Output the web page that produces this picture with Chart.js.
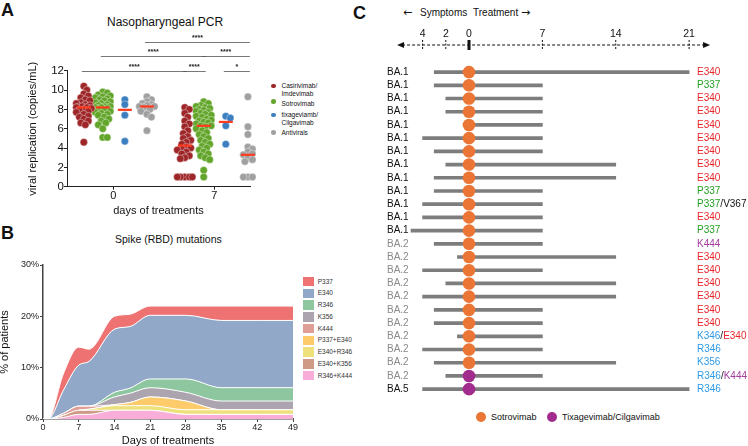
<!DOCTYPE html>
<html>
<head>
<meta charset="utf-8">
<script src="https://cdn.jsdelivr.net/npm/chart.js@4.4.0/dist/chart.umd.min.js"></script>
<style>
body { margin:0; width:748px; height:446px; overflow:hidden; background:#fff; position:relative;
       font-family:"Liberation Sans", Arial, Helvetica, sans-serif; color:#111; }
.t { position:absolute; white-space:nowrap; }
.big { font-weight:bold; font-size:18px; line-height:18px; }
canvas { position:absolute; }
.dot { position:absolute; border-radius:50%; }
.box { position:absolute; width:10.5px; height:9.5px; }
</style>
</head>
<body>
<!-- panel letters and titles -->
<div class="t big" style="left:1px;top:1px">A</div>
<div class="t" style="left:107px;top:14.7px;font-size:12px;line-height:14px">Nasopharyngeal PCR</div>
<div class="t big" style="left:1px;top:224px">B</div>
<div class="t" style="left:115px;top:233.3px;font-size:10.5px;line-height:12px">Spike (RBD) mutations</div>
<div class="t big" style="left:353px;top:3.5px">C</div>

<!-- panel A legend -->
<div class="dot" style="left:271px;top:83.7px;width:4.6px;height:4.6px;background:#9e2628"></div>
<div class="t" style="left:281.5px;top:82.4px;font-size:6.5px;line-height:7.3px">Casirivimab/<br>Imdevimab</div>
<div class="dot" style="left:271px;top:99.2px;width:4.6px;height:4.6px;background:#62a52a"></div>
<div class="t" style="left:281.5px;top:99.9px;font-size:6.5px;line-height:7.3px">Sotrovimab</div>
<div class="dot" style="left:271px;top:112.7px;width:4.6px;height:4.6px;background:#3b7fc0"></div>
<div class="t" style="left:281.5px;top:111.4px;font-size:6.5px;line-height:7.3px">tixageviamb/<br>Cilgavimab</div>
<div class="dot" style="left:271px;top:130.4px;width:4.6px;height:4.6px;background:#a0a0a0"></div>
<div class="t" style="left:281.5px;top:129.1px;font-size:6.5px;line-height:7.3px">Antivirals</div>

<!-- panel B legend gets filled from the series list -->
<div id="legendB"></div>

<!-- panel C header and legend -->
<div class="t" style="left:403px;top:6px;font-family:'DejaVu Sans';font-size:11px;line-height:13px">&larr;</div>
<div class="t" style="left:420px;top:6.7px;font-size:10px;line-height:12px">Symptoms</div>
<div class="t" style="left:473px;top:6.7px;font-size:10px;line-height:12px">Treatment</div>
<div class="t" style="left:521px;top:6px;font-family:'DejaVu Sans';font-size:11px;line-height:13px">&rarr;</div>
<div class="dot" style="left:476px;top:412px;width:10px;height:10px;background:#eb7535"></div>
<div class="t" style="left:491px;top:411px;font-size:9px;line-height:12px">Sotrovimab</div>
<div class="dot" style="left:547px;top:412px;width:10px;height:10px;background:#a22c8e"></div>
<div class="t" style="left:562px;top:411px;font-size:9px;line-height:12px">Tixagevimab/Cilgavimab</div>

<canvas id="chartA" width="360" height="220" style="left:0;top:0"></canvas>
<canvas id="chartB" width="360" height="232" style="left:0;top:220px"></canvas>
<canvas id="chartC" width="388" height="446" style="left:360px;top:0"></canvas>

<script>
// ---------- PANEL A : viral load per drug, day 0 and day 7 ----------
const dayLabels = ['0', '7'];
const casDay0 = [10.4, 10.0, 9.6, 9.4, 9.2, 9.0, 8.9, 8.7, 8.6, 8.5, 8.4, 8.3, 8.3, 8.2, 8.2, 8.1, 8.0, 7.9, 7.8, 7.7, 7.5, 7.3, 7.2, 7.0, 6.8, 6.6, 6.4, 4.6];
const sotDay0 = [9.8, 9.7, 9.5, 9.4, 9.3, 9.2, 9.1, 9.0, 8.9, 8.8, 8.7, 8.6, 8.5, 8.4, 8.3, 8.3, 8.2, 8.2, 8.1, 8.0, 7.9, 7.8, 7.7, 7.6, 7.5, 7.4, 7.2, 7.0, 6.8, 6.6, 6.4, 6.0, 5.1, 5.1];
const tixDay0 = [9.0, 8.5, 7.4, 4.7];
const antDay0 = [9.3, 9.0, 8.8, 8.6, 8.5, 8.4, 8.3, 8.3, 8.2, 8.0, 7.8, 7.5, 7.2, 5.8];
const casDay7 = [8.2, 8.0, 7.6, 7.2, 6.8, 6.5, 6.2, 5.8, 5.5, 5.2, 5.0, 4.8, 4.6, 4.4, 4.1, 4.0, 3.9, 3.8, 3.6, 3.4, 3.2, 3.0, 2.9, 1, 1, 1, 1, 1];
const sotDay7 = [8.8, 8.6, 8.4, 8.3, 8.2, 8.1, 8.0, 7.9, 7.8, 7.7, 7.6, 7.5, 7.4, 7.3, 7.2, 7.0, 6.9, 6.8, 6.7, 6.6, 6.5, 6.3, 6.3, 6.2, 6.0, 5.8, 5.6, 5.4, 5.2, 5.0, 4.8, 4.6, 4.4, 4.2, 4.0, 3.8, 3.6, 3.4, 3.2, 3.0, 2.8, 1.7, 1.0];
const tixDay7 = [7.3, 7.1, 6.3, 4.4];
const antDay7 = [9.3, 6.2, 5.4, 4.1, 3.9, 3.6, 3.4, 3.3, 3.0, 2.8, 2.6, 1, 1, 1, 1];

const drugColors = ['#9e2628', '#62a52a', '#3b7fc0', '#a0a0a0'];
const dayCenters = [2.2, 7.0];
const drugOffsets = [-1.4, -0.5, 0.55, 1.6];
const groups = [casDay0, sotDay0, tixDay0, antDay0, casDay7, sotDay7, tixDay7, antDay7];
const groupX = groups.map((_, g) => dayCenters[Math.floor(g / 4)] + drugOffsets[g % 4]);
// [from group, to group, bracket level (y units), label]
const brackets = [[0, 4, 12, '****'], [4, 5, 12, '****'], [6, 7, 12, '*'],
                  [1, 5, 13.5, '****'], [5, 7, 13.5, '****'], [3, 7, 15, '****']];

const PX_PER_Y = 116 / 12, PX_PER_X = 21;

// simple beeswarm so the dots sit side by side like in the figure
function swarm(values, cx) {
  const placed = [];
  return values.slice().sort((a, b) => b - a).map(v => {
    const py = v * PX_PER_Y;
    let best = 0, bestGap = -1;
    for (let k = 0; k <= 10; k++) {
      const off = (k % 2 ? 1 : -1) * Math.ceil(k / 2) * 1.5;
      const gap = placed.reduce((m, p) => Math.min(m, Math.hypot(p.x - off, p.y - py)), Infinity);
      if (gap >= 4.4) { best = off; break; }
      if (gap > bestGap) { bestGap = gap; best = off; }
    }
    placed.push({x: best, y: py});
    return {x: cx + best / PX_PER_X, y: v};
  });
}
function median(a) {
  const s = a.slice().sort((x, y) => x - y), m = Math.floor(s.length / 2);
  return s.length % 2 ? s[m] : (s[m - 1] + s[m]) / 2;
}

const bracketPlugin = {
  id: 'brackets',
  afterDraw(chart) {
    const {ctx, scales: {x, y}} = chart;
    ctx.save();
    ctx.strokeStyle = '#555';
    ctx.lineWidth = 0.8;
    ctx.fillStyle = '#222';
    ctx.font = 'bold 7px "Liberation Sans", Arial';
    ctx.textAlign = 'center';
    ctx.textBaseline = 'bottom';
    brackets.forEach(([a, b, level, label]) => {
      const xa = x.getPixelForValue(groupX[a]) - 2, xb = x.getPixelForValue(groupX[b]) + 2;
      const py = Math.round(y.getPixelForValue(level)) + 0.5;
      ctx.beginPath(); ctx.moveTo(xa, py); ctx.lineTo(xb, py); ctx.stroke();
      ctx.fillText(label, (xa + xb) / 2, py - 1);
    });
    ctx.restore();
  }
};

const datasetsA = drugColors.map((c, k) => ({
  type: 'scatter',
  data: [...swarm(groups[k], groupX[k]), ...swarm(groups[k + 4], groupX[k + 4])],
  pointRadius: 3.7,
  pointBackgroundColor: c,
  pointBorderColor: 'rgba(255,255,255,0.55)',
  pointBorderWidth: 0.7,
  clip: false,
  order: 1
}));
datasetsA.push({
  type: 'scatter',
  data: groups.map((g, i) => ({x: groupX[i], y: median(g)})),
  pointStyle: 'line', pointRadius: 7, pointBorderColor: '#ff3b1f', pointBorderWidth: 2.2,
  clip: false,
  order: 0
});

new Chart(document.getElementById('chartA'), {
  type: 'scatter',
  data: {datasets: datasetsA},
  plugins: [bracketPlugin],
  options: {
    responsive: false, animation: false,
    layout: {padding: {left: 0, top: 70.7, right: 110, bottom: 0}},
    plugins: {legend: {display: false}, tooltip: {enabled: false}},
    scales: {
      x: {
        type: 'linear', min: 0, max: 8.7,
        afterBuildTicks: ax => { ax.ticks = dayCenters.map(v => ({value: v})); },
        ticks: {callback: (v, i) => dayLabels[i], font: {size: 11}, color: '#111', padding: 0, autoSkip: false, maxRotation: 0},
        grid: {drawOnChartArea: false, tickLength: 3, color: '#222'},
        border: {color: '#222', width: 1},
        title: {display: true, text: 'days of treatments', font: {size: 11}, color: '#111', padding: {top: 0, bottom: 2.7}},
        afterFit: ax => { ax.height = 33.3; }
      },
      y: {
        min: 0, max: 12,
        ticks: {stepSize: 2, font: {size: 11.5}, color: '#111', padding: 0},
        grid: {drawOnChartArea: false, tickLength: 3, color: '#222'},
        border: {color: '#222', width: 1},
        title: {display: true, text: 'viral replication (copies/mL)', font: {size: 11}, color: '#111', padding: {top: 26, bottom: 0}},
        afterFit: ax => { ax.width = 67; }
      }
    }
  }
});

// ---------- PANEL B : stacked share of patients with spike mutations ----------
const bDays = [0, 1, 4, 7, 9, 14, 17, 21, 28, 35, 42, 49];
const r346k444 = [0, 0, 0.3, 0.9, 0.9, 1.7, 1.7, 1.7, 0.9, 0.9, 0.9, 0.9];
const e340k356 = [0, 0, 0.4, 0.8, 0.8, 0, 0, 0, 0, 0, 0, 0];
const e340r346 = [0, 0, 0, 0, 0.2, 0.9, 0.9, 0.9, 0.9, 0.9, 0.9, 0.9];
const p337e340 = [0, 0, 0, 0, 0, 0.2, 0.6, 1.7, 1.7, 0, 0, 0];
const k444 = [0, 0, 0.4, 0.8, 0.6, 0, 0, 0, 0, 0, 0, 0];
const k356 = [0, 0, 0, 0, 0, 1.5, 1.8, 1.8, 1.7, 1.7, 1.7, 1.7];
const r346 = [0, 0, 0, 0, 0, 0.9, 1.0, 1.7, 2.6, 2.6, 2.6, 2.6];
const e340 = [0, 0, 4.5, 8.0, 8.7, 12.3, 12.0, 12.4, 12.4, 13.1, 13.1, 13.1];
const p337 = [0, 0, 3.2, 3.5, 2.4, 2.5, 2.4, 1.8, 1.8, 2.8, 2.8, 2.8];

// legend order (top to bottom); stacking goes the other way round
const bSeries = [
  {name: 'P337', values: p337, color: '#ee7272'},
  {name: 'E340', values: e340, color: '#92a8c8'},
  {name: 'R346', values: r346, color: '#8ec79f'},
  {name: 'K356', values: k356, color: '#aca5b0'},
  {name: 'K444', values: k444, color: '#df9f97'},
  {name: 'P337+E340', values: p337e340, color: '#fdcb6a'},
  {name: 'E340+R346', values: e340r346, color: '#eee07a'},
  {name: 'E340+K356', values: e340k356, color: '#cf9a86'},
  {name: 'R346+K444', values: r346k444, color: '#f8aed8'}
];

const legendB = document.getElementById('legendB');
bSeries.forEach((s, i) => {
  const cy = 281.7 + i * 11.75;
  legendB.insertAdjacentHTML('beforeend',
    `<div class="box" style="left:303px;top:${cy - 4.75}px;background:${s.color}"></div>` +
    `<div class="t" style="left:317.7px;top:${cy - 4}px;font-size:6.5px;line-height:8px;color:#333">${s.name}</div>`);
});

const stackOrder = bSeries.slice().reverse();
new Chart(document.getElementById('chartB'), {
  type: 'line',
  data: {
    datasets: stackOrder.map((s, i) => ({
      label: s.name,
      data: bDays.map((d, j) => ({x: d, y: s.values[j]})),
      fill: i === 0 ? 'origin' : '-1',
      backgroundColor: s.color,
      borderColor: '#fff',
      borderWidth: 1
    }))
  },
  options: {
    responsive: false, animation: false,
    layout: {padding: {left: 0, top: 45, right: 67, bottom: 0}},
    plugins: {legend: {display: false}, tooltip: {enabled: false}},
    elements: {line: {cubicInterpolationMode: 'monotone'}, point: {radius: 0}},
    scales: {
      x: {
        type: 'linear', min: 0, max: 49,
        ticks: {stepSize: 7, font: {size: 9}, color: '#222', padding: 0, maxRotation: 0},
        grid: {drawOnChartArea: false, tickLength: 3, color: '#444'},
        border: {color: '#444', width: 1.5},
        title: {display: true, text: 'Days of treatments', font: {size: 11}, color: '#111', padding: {top: 0, bottom: 4}},
        afterFit: ax => { ax.height = 33; }
      },
      y: {
        stacked: true, min: 0, max: 30,
        ticks: {stepSize: 10, callback: v => v + '%', font: {size: 9}, color: '#222', padding: 1},
        grid: {drawOnChartArea: false, tickLength: 3, color: '#444'},
        border: {color: '#444', width: 1.5},
        title: {display: true, text: '% of patients', font: {size: 11}, color: '#111', padding: {top: -2, bottom: 0}},
        afterFit: ax => { ax.width = 43; }
      }
    }
  }
});

// ---------- PANEL C : per patient timeline ----------
const lineages = ['BA.1', 'BA.1', 'BA.1', 'BA.1', 'BA.1', 'BA.1', 'BA.1', 'BA.1', 'BA.1', 'BA.1', 'BA.1', 'BA.1', 'BA.1',
                  'BA.2', 'BA.2', 'BA.2', 'BA.2', 'BA.2', 'BA.2', 'BA.2', 'BA.2', 'BA.2', 'BA.2', 'BA.2', 'BA.5'];
const symptomDay = [-3, -3, -2, -2, -0.5, -4, -3, -2, -3, -3, -4, -4, -5,
                    -3, -1, -4, -2, -4, -3, -3, -1, -4, -3, -2, -4];
const lastDay = [21, 7, 7, 7, 7, 7, 7, 14, 14, 7, 7, 7, 7,
                 7, 14, 7, 14, 14, 7, 7, 7, 7, 14, 7, 21];
const mutations = ['E340', 'P337', 'E340', 'E340', 'E340', 'E340', 'E340', 'E340', 'E340', 'P337', 'P337/V367', 'E340', 'P337',
                   'K444', 'E340', 'E340', 'E340', 'E340', 'E340', 'E340', 'K346/E340', 'R346', 'K356', 'R346/K444', 'R346'];
const treatment = ['S', 'S', 'S', 'S', 'S', 'S', 'S', 'S', 'S', 'S', 'S', 'S', 'S',
                   'S', 'S', 'S', 'S', 'S', 'S', 'S', 'S', 'S', 'S', 'T', 'T'];
const topTicks = [-4, -2, 0, 7, 14, 21];

const treatColor = {S: '#eb7535', T: '#a22c8e'};
const mutColor = {E340: '#e8262a', P337: '#24a024', K444: '#a33c9f', R346: '#2f9be8', K346: '#2f9be8', K356: '#2f9be8', V367: '#111'};
const lineageColor = {'BA.1': '#111', 'BA.2': '#8a8a8a', 'BA.5': '#111'};

// the days before treatment are drawn a little wider than the days after it
const PRE_STRETCH = 11.6 / 10.48;
const warp = d => (d < 0 ? d * PRE_STRETCH : d);

const timelinePlugin = {
  id: 'timeline',
  afterDraw(chart) {
    const {ctx, chartArea, scales: {x, y}} = chart;
    const ay = chartArea.top;
    const x0 = x.getPixelForValue(warp(-6.2)), x1 = x.getPixelForValue(23);
    ctx.save();
    // dashed time axis with arrow heads
    ctx.strokeStyle = '#111';
    ctx.lineWidth = 1;
    ctx.setLineDash([3, 2]);
    ctx.beginPath(); ctx.moveTo(x0 + 5, ay); ctx.lineTo(x1 - 5, ay); ctx.stroke();
    ctx.setLineDash([]);
    ctx.fillStyle = '#111';
    ctx.beginPath(); ctx.moveTo(x0, ay); ctx.lineTo(x0 + 7, ay - 3); ctx.lineTo(x0 + 7, ay + 3); ctx.fill();
    ctx.beginPath(); ctx.moveTo(x1, ay); ctx.lineTo(x1 - 7, ay - 3); ctx.lineTo(x1 - 7, ay + 3); ctx.fill();
    topTicks.forEach(t => {
      const px = x.getPixelForValue(warp(t));
      if (t === 0) {
        ctx.fillRect(px - 1.5, ay - 5, 3, 10);
      } else {
        ctx.setLineDash([2, 1.5]);
        ctx.beginPath(); ctx.moveTo(px, ay - 5); ctx.lineTo(px, ay + 5); ctx.stroke();
        ctx.setLineDash([]);
      }
    });
    // mutation labels on the right, split colours
    ctx.font = '10px "Liberation Sans", Arial';
    ctx.textBaseline = 'middle';
    ctx.textAlign = 'left';
    mutations.forEach((m, i) => {
      let px = chartArea.right + 4;
      const py = y.getPixelForValue(i);
      m.split('/').forEach((part, j) => {
        if (j > 0) { ctx.fillStyle = '#222'; ctx.fillText('/', px, py); px += ctx.measureText('/').width; }
        ctx.fillStyle = mutColor[part] || '#111';
        ctx.fillText(part, px, py);
        px += ctx.measureText(part).width;
      });
    });
    ctx.restore();
  }
};

new Chart(document.getElementById('chartC'), {
  type: 'bar',
  data: {
    datasets: [
      {
        type: 'scatter',
        data: lineages.map((_, i) => ({x: 0, y: i})),
        pointRadius: 6.3,
        pointBackgroundColor: treatment.map(t => treatColor[t]),
        pointBorderWidth: 0,
        order: 0
      },
      {
        type: 'bar',
        data: lineages.map((_, i) => ({x: [warp(symptomDay[i]), warp(lastDay[i])], y: i})),
        backgroundColor: '#7d7d7d',
        barThickness: 3,
        order: 1
      }
    ]
  },
  plugins: [timelinePlugin],
  options: {
    indexAxis: 'y',
    responsive: false, animation: false,
    layout: {padding: {left: 27, top: 20, right: 55, bottom: 40}},
    plugins: {legend: {display: false}, tooltip: {enabled: false}},
    scales: {
      x: {
        type: 'linear', position: 'top', min: -5.63, max: 21.37,
        afterBuildTicks: ax => { ax.ticks = topTicks.map(t => ({value: warp(t)})); },
        ticks: {callback: (v, i) => String(Math.abs(topTicks[i])), font: {size: 10.5}, color: '#111', padding: -3, autoSkip: false, maxRotation: 0},
        grid: {display: false},
        border: {display: false},
        afterFit: ax => { ax.height = 25; }
      },
      y: {
        type: 'linear', reverse: true, min: -1.504, max: 24.73,
        afterBuildTicks: ax => { ax.ticks = lineages.map((_, i) => ({value: i})); },
        ticks: {callback: (v, i) => lineages[i], color: c => lineageColor[lineages[c.index]], crossAlign: 'far', font: {size: 10}, autoSkip: false},
        grid: {display: false},
        border: {display: false},
        afterFit: ax => { ax.width = 23; }
      }
    }
  }
});
</script>
</body>
</html>
